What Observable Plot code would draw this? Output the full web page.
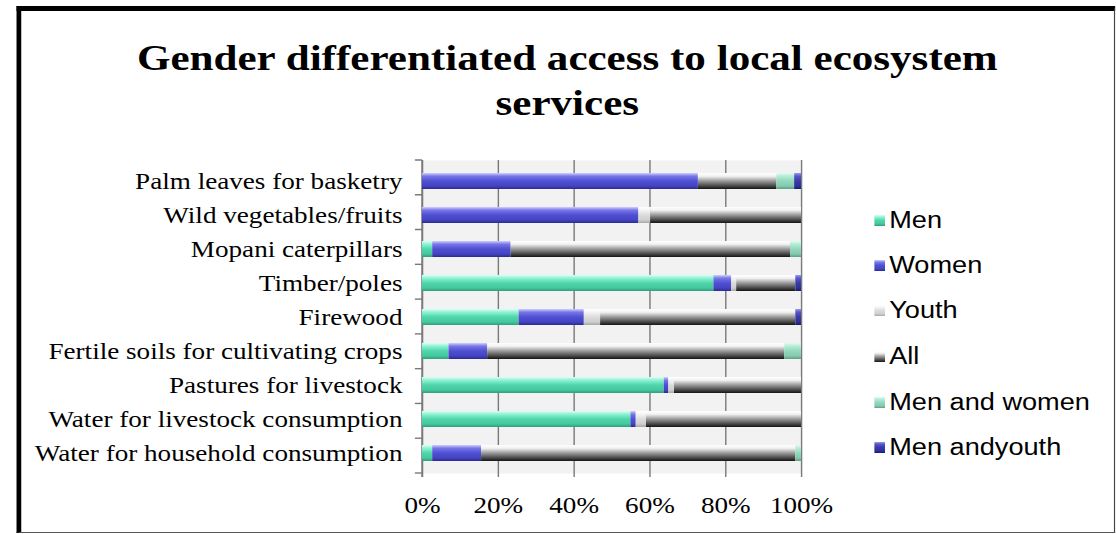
<!DOCTYPE html>
<html>
<head>
<meta charset="utf-8">
<script src="https://cdn.jsdelivr.net/npm/d3@7"></script>
<script src="https://cdn.jsdelivr.net/npm/@observablehq/plot@0.6"></script>
<style>
  html, body { margin: 0; padding: 0; background: #fff; overflow: hidden; }
  /* the reference picture is horizontally stretched; draw at 946px and stretch to 1116px */
  #page { position: relative; width: 946px; height: 534px; overflow: hidden; background: #fff;
          transform: scaleX(1.18); transform-origin: 0 0; }
  #frame { position: absolute; left: 13.6px; top: 6px; width: 926px; height: 521px;
           border-top: 5px solid #000; border-left: 4.2px solid #000;
           border-right: 1px solid #444; border-bottom: 1px solid #555; }
  #title { position: absolute; left: 17.8px; width: 926px; top: 35px; text-align: center;
           font-family: "Liberation Serif", "Times New Roman", serif; font-weight: bold;
           font-size: 36.5px; line-height: 45px; color: #000; }
  #chart { position: absolute; left: 0; top: 140px; }
  .leg { position: absolute; left: 740.7px; height: 26px; display: flex; align-items: center;
         font-family: "Liberation Sans", Arial, sans-serif; font-size: 23px; color: #000; white-space: nowrap; }
  .leg .sw { width: 9.4px; height: 11px; margin-right: 3.5px; box-sizing: border-box; }
</style>
</head>
<body>
<div id="page">
  <div id="frame"></div>
  <div id="title">Gender differentiated access to local ecosystem<br>services</div>
  <div id="chart"></div>
  <div id="legend"></div>
</div>
<script>
// ---- data ----
const categories = [
  "Palm leaves for basketry",
  "Wild vegetables/fruits",
  "Mopani caterpillars",
  "Timber/poles",
  "Firewood",
  "Fertile soils for cultivating crops",
  "Pastures for livestock",
  "Water for livestock consumption",
  "Water for household consumption"
];
const seriesNames = ["Men", "Women", "Youth", "All", "Men and women", "Men andyouth"];
const men          = [0,    0,    2.7, 76.9, 25.5, 7.0,  63.8, 55.0, 2.7];
const women        = [72.8, 57.1, 20.7, 4.7, 17.2, 10.2, 1.2,  1.4,  12.9];
const youth        = [0,    3.1,  0,   1.3,  4.3,  0,    1.5,  2.7,  0];
const allGroups    = [20.7, 39.8, 73.7, 15.6, 51.5, 78.4, 33.5, 40.9, 82.9];
const menAndWomen  = [4.7,  0,    2.9,  0,    0,    4.4,  0,    0,    1.5];
const menAndYouth  = [1.8,  0,    0,    1.5,  1.5,  0,    0,    0,    0];
const xTicks = [0, 20, 40, 60, 80, 100];

const seriesValues = [men, women, youth, allGroups, menAndWomen, menAndYouth];

// gradient stops per series (top -> bottom)
const gradients = [
  ["#d6fff7", "#8ff2d2", "#4fd6ab", "#46c89f", "#2f9e7c"],
  ["#cfcfff", "#7777e6", "#4f4fd2", "#4444c4", "#2b2b8e"],
  ["#ffffff", "#f4f4f4", "#dcdcdc", "#cfcfcf", "#a8a8a8"],
  ["#ffffff", "#f2f2f2", "#9a9a9a", "#4a4a4a", "#151515"],
  ["#e2fbf1", "#b4ecd7", "#92d8bc", "#86cbb0", "#5f9e86"],
  ["#9a9af0", "#5656c8", "#3a3aa8", "#30309a", "#1a1a6a"]
];

const rows = [];
seriesNames.forEach((s, si) => {
  categories.forEach((c, ci) => {
    rows.push({cat: c, series: s, value: seriesValues[si][ci]});
  });
});

// boundary ticks on the category axis (between bands) and the axis line
function bandTicks(index, scales, values, dimensions) {
  const {marginTop, marginBottom, marginLeft, height} = dimensions;
  const n = categories.length;
  const inner = height - marginTop - marginBottom;
  const g = d3.create("svg:g");
  for (let i = 0; i <= n; i++) {
    const yy = marginTop + (i * inner) / n;
    g.append("line").attr("x1", marginLeft - 6).attr("x2", marginLeft)
      .attr("y1", yy).attr("y2", yy).attr("stroke", "#7a7a7a").attr("stroke-width", 1.4);
  }
  g.append("line").attr("x1", marginLeft).attr("x2", marginLeft)
    .attr("y1", marginTop).attr("y2", height - marginBottom + 4)
    .attr("stroke", "#7a7a7a").attr("stroke-width", 1.2);
  return g.node();
}

const plot = Plot.plot({
  width: 710,
  height: 394,
  marginLeft: 357.6,
  marginRight: 31.2,
  marginTop: 20,
  marginBottom: 61,
  style: {fontFamily: "'Liberation Serif', 'Times New Roman', serif", fontSize: "23px", color: "#000", background: "transparent"},
  x: {domain: [0, 100], ticks: xTicks, tickFormat: d => d + "%", tickSize: 0, tickPadding: 23, label: null},
  y: {domain: categories, paddingInner: 0.54, paddingOuter: 0.27, tickSize: 0, tickPadding: 17, label: null},
  color: {domain: seriesNames, range: seriesNames.map((s, i) => `url(#grad${i})`)},
  marks: [
    Plot.frame({fill: "#f2f2f2", stroke: null}),
    Plot.ruleX(xTicks, {stroke: "#7a7a7a", strokeWidth: 1.2, insetBottom: -4}),
    bandTicks,
    Plot.barX(rows, Plot.stackX({x: "value", y: "cat", fill: "series", order: seriesNames}))
  ]
});

// gradient defs
const defs = d3.select(plot).insert("defs", ":first-child");
gradients.forEach((stops, i) => {
  const lg = defs.append("linearGradient").attr("id", `grad${i}`)
    .attr("x1", 0).attr("y1", 0).attr("x2", 0).attr("y2", 1);
  const offs = [0, 0.2, 0.5, 0.8, 1];
  stops.forEach((c, k) => lg.append("stop").attr("offset", offs[k]).attr("stop-color", c));
});

document.getElementById("chart").appendChild(plot);

// legend
const legendCenters = [220, 265, 310, 356, 402, 447];
const legend = document.getElementById("legend");
seriesNames.forEach((s, i) => {
  const item = document.createElement("div");
  item.className = "leg";
  item.style.top = (legendCenters[i] - 13) + "px";
  const sw = document.createElement("div");
  sw.className = "sw";
  const st = gradients[i];
  sw.style.background = `linear-gradient(to bottom, ${st[0]} 0%, ${st[1]} 20%, ${st[2]} 50%, ${st[3]} 80%, ${st[4]} 100%)`;
  item.appendChild(sw);
  const tx = document.createElement("span");
  tx.textContent = s;
  item.appendChild(tx);
  legend.appendChild(item);
});
</script>
</body>
</html>
